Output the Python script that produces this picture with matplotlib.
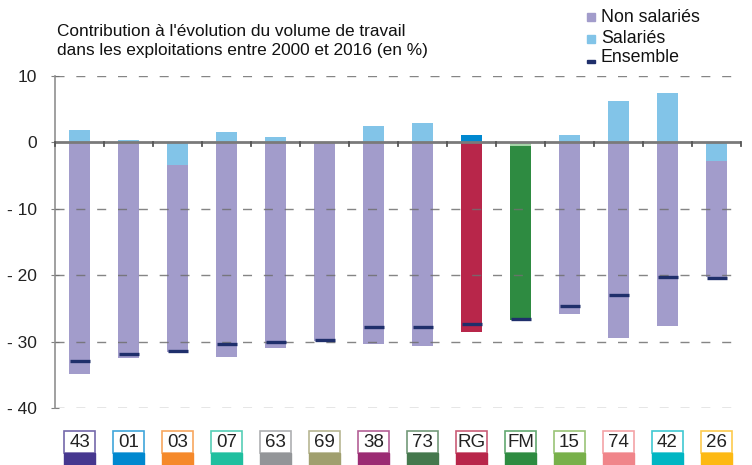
import numpy as np
import matplotlib.pyplot as plt
from matplotlib.patches import Rectangle
from matplotlib.transforms import blended_transform_factory

plt.rcParams['font.family'] = ['Liberation Sans', 'DejaVu Sans']

categories = ["43", "01", "03", "07", "63", "69", "38", "73", "RG", "FM", "15", "74", "42", "26"]
salaries = [1.9, 0.4, -3.4, 1.6, 0.8, 0.0, 2.5, 2.9, 1.1, -0.5, 1.1, 6.2, 7.4, -2.8]
non_salaries = [-34.9, -32.4, -28.2, -32.3, -30.9, -29.9, -30.3, -30.7, -28.5, -26.3, -25.9, -29.4, -27.7, -17.5]
ensemble = [-32.9, -31.9, -31.4, -30.4, -30.0, -29.8, -27.8, -27.8, -27.4, -26.6, -24.7, -23.0, -20.3, -20.4]

box_colors = ["#46378f", "#0088cf", "#f5892a", "#1fbf9f", "#939598", "#a09f6e", "#9b2b73",
              "#45784d", "#b8264a", "#2e8b41", "#78b04a", "#f0858a", "#00b6c3", "#fdb913"]

LAV = "#a29ccb"
SKY = "#82c4e8"
NAVY = "#1f2f6b"
nonsal_colors = [LAV] * 8 + ["#b8264a", "#2e8b41"] + [LAV] * 4
sal_colors = [SKY] * 8 + ["#0088d0", "#a6d4a8"] + [SKY] * 4

fig = plt.figure(figsize=(7.52, 4.65), dpi=100)
ax = fig.add_axes([55 / 752, 1 - 408 / 465, 686 / 752, 332 / 465])

x = np.arange(len(categories))
w = 0.43
sal = np.array(salaries)
nsal = np.array(non_salaries)
bottoms = np.minimum(sal, 0)

ax.bar(x, sal, w, color=sal_colors, zorder=2)
ax.bar(x, nsal, w, bottom=bottoms, color=nonsal_colors, zorder=2)

for yv in [10, -10, -20, -30, -40]:
    ax.axhline(yv, color="#707070", lw=1.0, ls=(0, (6.5, 8.5)), alpha=0.85, zorder=3)
ax.hlines(ensemble, x - w / 2 + 0.02, x + w / 2, color=NAVY, lw=2.4, zorder=4)
ax.axhline(0, color="#7a7a7a", lw=2.0, zorder=5)

# small ticks on the zero line between categories
for k in range(0, len(categories) + 1):
    ax.plot([k - 0.5, k - 0.5], [0, -0.6], color="#555555", lw=1.3, zorder=5, clip_on=False)

ax.set_xlim(-0.5, 13.5)
ax.set_ylim(-40, 10)
ax.set_yticks([10, 0, -10, -20, -30, -40])
ax.set_yticklabels(["10", "0", "- 10", "- 20", "- 30", "- 40"], fontsize=12.5, color="#222222")
ax.tick_params(axis="y", direction="inout", length=6, color="#808080", pad=10)
ax.set_xticks([])
for s in ["top", "right", "bottom"]:
    ax.spines[s].set_visible(False)
ax.spines["left"].set_color("#909090")
ax.spines["left"].set_linewidth(1.2)

# category boxes below the axes
tr = blended_transform_factory(ax.transData, fig.transFigure)
bw = 0.63
for xi, lab, c in zip(x, categories, box_colors):
    ax.add_patch(Rectangle((xi - bw / 2, 0.0), bw, 0.0258, transform=tr, color=c,
                           clip_on=False, zorder=6))
    ax.add_patch(Rectangle((xi - bw / 2, 0.0258), bw, 0.0473, transform=tr, facecolor="white",
                           edgecolor=c, lw=1.2, alpha=0.75, clip_on=False, zorder=6))
    ax.text(xi, 0.049, lab, transform=tr, ha="center", va="center", fontsize=13.5,
            color="#222222", zorder=7)

fig.text(57 / 752, 1 - 55 / 465, "Contribution à l'évolution du volume de travail\n"
         "dans les exploitations entre 2000 et 2016 (en %)",
         fontsize=12.4, color="#111111", va="baseline", ha="left", linespacing=1.3)

# legend
fig.patches.append(Rectangle((587 / 752, 1 - 21 / 465), 8 / 752, 8 / 465, transform=fig.transFigure,
                             color=LAV))
fig.patches.append(Rectangle((587 / 752, 1 - 43 / 465), 8 / 752, 8 / 465, transform=fig.transFigure,
                             color=SKY))
fig.patches.append(Rectangle((587 / 752, 1 - 63 / 465), 8 / 752, 3 / 465, transform=fig.transFigure,
                             color=NAVY))
for ty, lab in [(18, "Non salariés"), (38, "Salariés"), (58, "Ensemble")]:
    fig.text(601 / 752, 1 - ty / 465, lab, fontsize=12.8, color="#111111", va="center", ha="left")

plt.savefig("out.png", dpi=100)
